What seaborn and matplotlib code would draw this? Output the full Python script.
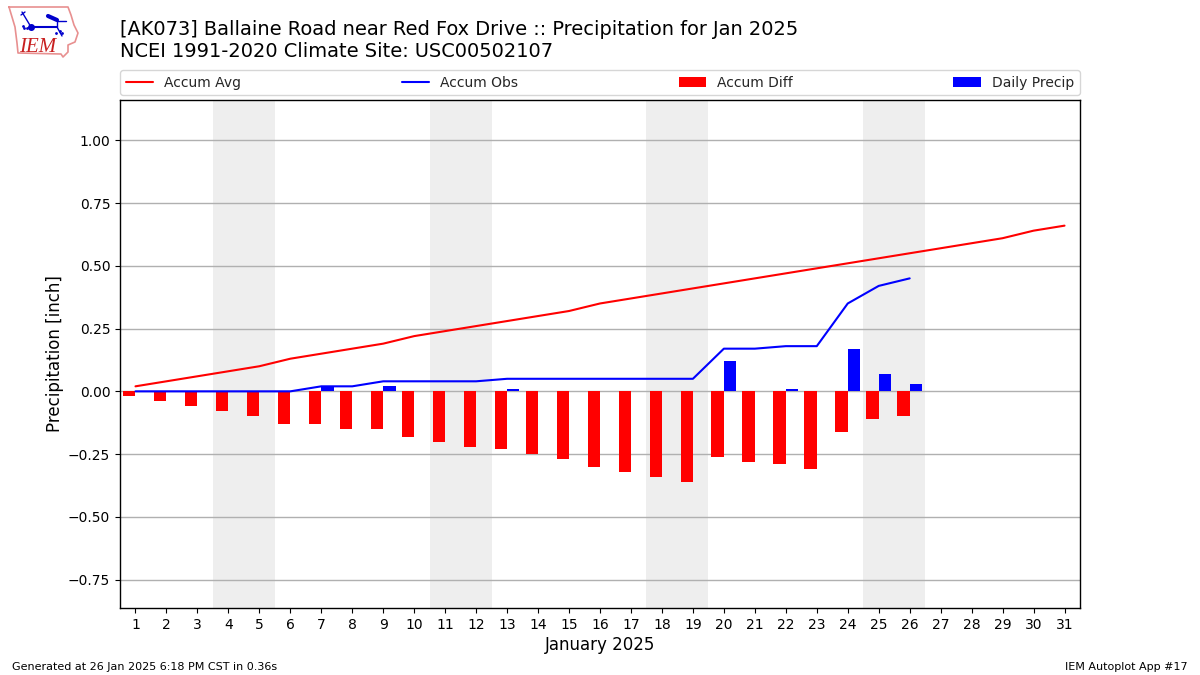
import matplotlib
matplotlib.use("Agg")
import matplotlib.pyplot as plt
from matplotlib.patches import Patch
from matplotlib.lines import Line2D
import numpy as np
import pandas as pd
import seaborn as sns

sns.set_style("white")
plt.rcParams['font.family'] = ['DejaVu Sans']

days_all = list(range(1, 32))
days_obs = list(range(1, 27))
accum_avg = [.02,.04,.06,.08,.10,.13,.15,.17,.19,.22,.24,.26,.28,.30,.32,.35,.37,.39,.41,.43,.45,.47,.49,.51,.53,.55,.57,.59,.61,.64,.66]
accum_obs = [0,0,0,0,0,0,.02,.02,.04,.04,.04,.04,.05,.05,.05,.05,.05,.05,.05,.17,.17,.18,.18,.35,.42,.45]
accum_diff = [-.02,-.04,-.06,-.08,-.10,-.13,-.13,-.15,-.15,-.18,-.20,-.22,-.23,-.25,-.27,-.30,-.32,-.34,-.36,-.26,-.28,-.29,-.31,-.16,-.11,-.10]
daily_precip = [0,0,0,0,0,0,.02,0,.02,0,0,0,.01,0,0,0,0,0,0,.12,0,.01,0,.17,.07,.03]
weekends = [(3.5, 5.5), (10.5, 12.5), (17.5, 19.5), (24.5, 26.5)]
yticks = [-0.75, -0.5, -0.25, 0, 0.25, 0.5, 0.75, 1.0]

fig = plt.figure(figsize=(12, 6.75), dpi=100)
ax = fig.add_axes([120/1200, 1-608/675, 960/1200, 508/675])

for a, b in weekends:
    ax.axvspan(a, b, color="#eeeeee", lw=0, zorder=0)

bars = pd.DataFrame({
    "day": days_obs * 2,
    "value": accum_diff + daily_precip,
    "series": ["Accum Diff"] * 26 + ["Daily Precip"] * 26,
})
sns.barplot(data=bars, x="day", y="value", hue="series", native_scale=True,
            palette={"Accum Diff": "#ff0000", "Daily Precip": "#0000ff"},
            width=0.8, gap=0, saturation=1, errorbar=None, legend=False,
            linewidth=0, ax=ax, zorder=3)
sns.lineplot(x=days_all, y=accum_avg, color="#ff0000", lw=1.5, ax=ax, zorder=4)
sns.lineplot(x=days_obs, y=accum_obs, color="#0000ff", lw=1.5, ax=ax, zorder=4)

ax.set_xlim(0.5, 31.5)
ax.set_ylim(-0.8630, 1.1605)
ax.set_xticks(days_all)
ax.set_xticklabels([str(d) for d in days_all])
ax.set_yticks(yticks)
ax.set_yticklabels(["\u22120.75", "\u22120.50", "\u22120.25", "0.00", "0.25", "0.50", "0.75", "1.00"])
ax.tick_params(axis="both", length=3.5, width=0.8, labelsize=10, color="black", labelcolor="black",
               bottom=True, left=True)
ax.yaxis.grid(True, color="#b0b0b0", lw=1.0, zorder=1)
ax.xaxis.grid(False)
ax.set_axisbelow(True)
for s in ax.spines.values():
    s.set_visible(True)
    s.set_color("black")
    s.set_linewidth(1.0)
ax.set_xlabel("January 2025", fontsize=12, color="black", labelpad=3)
ax.set_ylabel("Precipitation [inch]", fontsize=12, color="black", labelpad=3)

handles = [Line2D([], [], color="#ff0000", lw=1.5),
           Line2D([], [], color="#0000ff", lw=1.5),
           Patch(color="#ff0000", lw=0),
           Patch(color="#0000ff", lw=0)]
ax.legend(handles, ["Accum Avg", "Accum Obs", "Accum Diff", "Daily Precip"],
          ncol=4, mode="expand", loc="lower left", bbox_to_anchor=(0, 1.0095, 1, 0.05),
          borderaxespad=0, fontsize=10, frameon=True, framealpha=0.8, edgecolor="#cccccc")

fig.text(120/1200, 1-35/675, "[AK073] Ballaine Road near Red Fox Drive :: Precipitation for Jan 2025",
         fontsize=13.99, color="black", va="baseline")
fig.text(120/1200, 1-57/675, "NCEI 1991-2020 Climate Site: USC00502107",
         fontsize=13.99, color="black", va="baseline")
fig.text(12/1200, 1-670/675, "Generated at 26 Jan 2025 6:18 PM CST in 0.36s", fontsize=8, color="black")
fig.text(1188/1200, 1-670/675, "IEM Autoplot App #17", fontsize=8, color="black", ha="right")

# IEM logo
logo = fig.add_axes([0, 1-60/675, 80/1200, 60/675])
logo.set_xlim(0, 80)
logo.set_ylim(60, 0)
logo.axis("off")
outline_x = [9, 68, 71, 74, 78, 75, 68, 68, 63, 61, 18, 17, 15, 9]
outline_y = [7, 7, 15, 25, 33, 42, 45, 52, 57, 54, 53, 43, 27, 7]
logo.plot(outline_x, outline_y, color="#e89090", lw=1.2)
blue = "#0000cc"
logo.plot([31, 57], [27, 27], color=blue, lw=1.5)
logo.plot([57, 66], [21, 21], color=blue, lw=1)
logo.plot([57, 57], [21, 27], color=blue, lw=1)
logo.plot([57, 62], [27, 36], color=blue, lw=1)
logo.plot([22, 31], [12, 27], color=blue, lw=1)
logo.plot([21, 25], [15, 12], color=blue, lw=1)
logo.plot([31], [27], "o", color=blue, ms=4)
logo.plot([48, 57], [16, 20], color=blue, lw=3)
logo.plot([24, 27, 23], [28, 28, 26], ".", color=blue, ms=2)
logo.plot([56, 60, 62], [33, 31, 33], ".", color=blue, ms=2)
logo.text(38, 52, "IEM", family="Liberation Serif", style="italic", fontsize=15,
          color="#c82020", ha="center", va="baseline")

fig.savefig("out.png", dpi=100)
